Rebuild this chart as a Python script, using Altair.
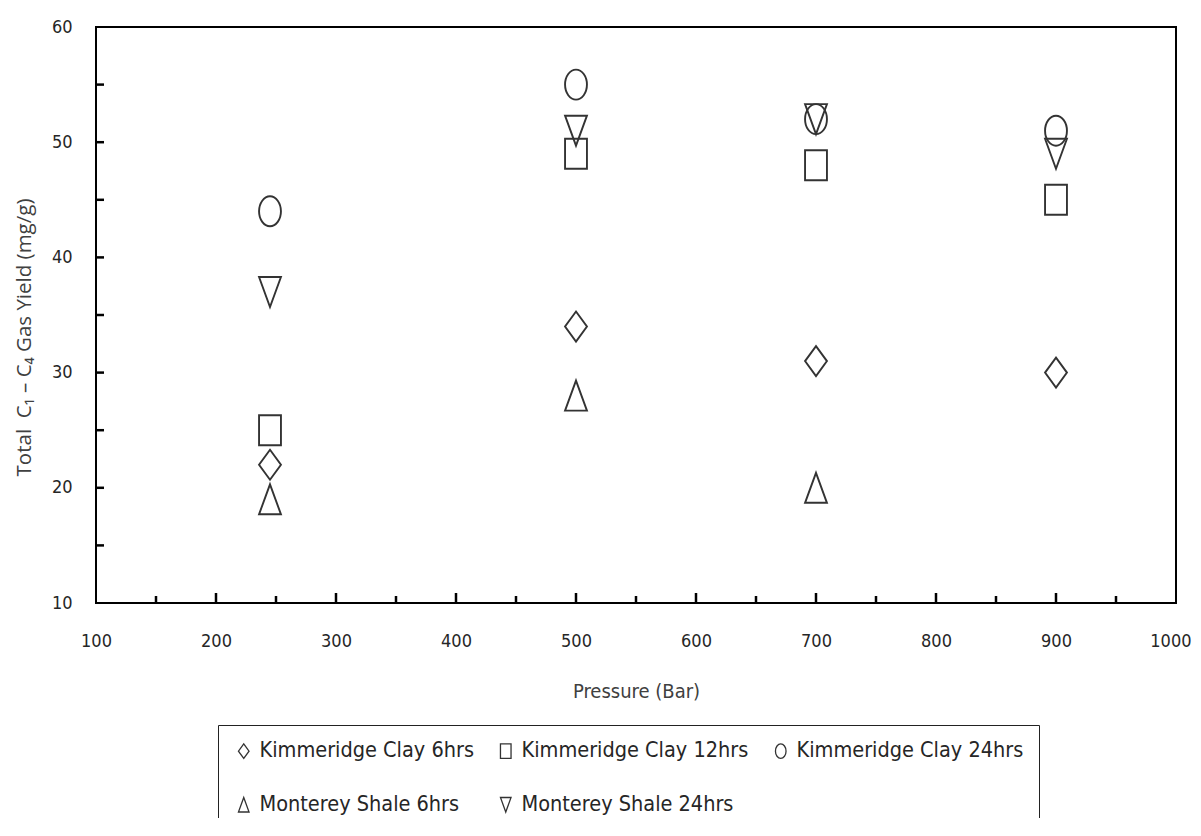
import altair as alt
import pandas as pd

# ---- data ----
series_names = [
    "Kimmeridge Clay 6hrs",
    "Kimmeridge Clay 12hrs",
    "Kimmeridge Clay 24hrs",
    "Monterey Shale 6hrs",
    "Monterey Shale 24hrs",
]
pressure_kc6 = [245, 500, 700, 900]
yield_kc6 = [22, 34, 31, 30]
pressure_kc12 = [245, 500, 700, 900]
yield_kc12 = [25, 49, 48, 45]
pressure_kc24 = [245, 500, 700, 900]
yield_kc24 = [44, 55, 52, 51]
pressure_ms6 = [245, 500, 700]
yield_ms6 = [19, 28, 20]
pressure_ms24 = [245, 500, 700, 900]
yield_ms24 = [37, 51, 52, 49]

x_labels = [100, 200, 300, 400, 500, 600, 700, 800, 900, 1000]
y_labels = [10, 20, 30, 40, 50, 60]
x_major_ticks = [200, 300, 400, 500, 600, 700, 800, 900]
x_minor_ticks = [150, 250, 350, 450, 550, 650, 750, 850, 950]
y_ticks = [15, 20, 25, 30, 35, 40, 45, 50, 55]

rows = []
for name, xs, ys in [
    (series_names[0], pressure_kc6, yield_kc6),
    (series_names[1], pressure_kc12, yield_kc12),
    (series_names[2], pressure_kc24, yield_kc24),
    (series_names[3], pressure_ms6, yield_ms6),
    (series_names[4], pressure_ms24, yield_ms24),
]:
    for x, y in zip(xs, ys):
        rows.append({"series": name, "pressure": x, "yield": y})
df = pd.DataFrame(rows)

# marker shapes (taller than wide, as in the reference)
w = 0.73
k = 0.5523
ellipse = (f"M{w},0 C{w},{k} {w*k:.4f},1 0,1 C{-w*k:.4f},1 {-w},{k} {-w},0 "
           f"C{-w},{-k} {-w*k:.4f},-1 0,-1 C{w*k:.4f},-1 {w},{-k} {w},0 Z")
square = f"M{-w},-1 L{w},-1 L{w},1 L{-w},1 Z"
diamond = f"M0,-1 L{w},0 L0,1 L{-w},0 Z"
tri_up = f"M0,-1 L{w},1 L{-w},1 Z"
tri_down = f"M{-w},-1 L{w},-1 L0,1 Z"
shapes = [diamond, square, ellipse, tri_up, tri_down]

W, H = 1080, 576
COND = "DejaVu Sans Condensed, Liberation Sans Narrow, Open Sans, sans-serif"
FONT = "Open Sans"

xscale = alt.Scale(domain=[100, 1000], nice=False, zero=False)
yscale = alt.Scale(domain=[10, 60], nice=False, zero=False)

points = alt.Chart(df).mark_point(
    filled=False, size=900, stroke="#333333", strokeWidth=1.9, opacity=1
).encode(
    x=alt.X("pressure:Q", scale=xscale,
            axis=alt.Axis(values=x_labels, format="d", title="Pressure (Bar)",
                          ticks=False, tickSize=0, domain=False, grid=False,
                          labelPadding=29, labelFontSize=18, labelFont=COND,
                          labelColor="#262626", labelFlush=False,
                          labelAlign={"condition": {"test": "datum.value >= 1000",
                                                    "value": "right"},
                                      "value": "center"},
                          labelOffset={"condition": {"test": "datum.value >= 1000",
                                                     "value": 15},
                                       "value": 0},
                          titleFont=COND, titleFontSize=20, titleFontWeight="normal",
                          titleColor="#404040", titleY=88, titleBaseline="middle")),
    y=alt.Y("yield:Q", scale=yscale,
            axis=alt.Axis(values=y_labels, format="d",
                          title="Total\u00a0 C₁ – C₄ Gas Yield (mg/g)",
                          ticks=False, tickSize=0, domain=False, grid=False,
                          labelPadding=24, labelFontSize=18, labelFont=COND,
                          labelColor="#262626", labelFlush=False,
                          titleFont=FONT, titleFontSize=20.5, titleFontWeight="normal",
                          titleColor="#404040", titleX=-72, titleY=310,
                          titleAngle=270, titleBaseline="middle")),
    shape=alt.Shape("series:N",
                    scale=alt.Scale(domain=series_names, range=shapes),
                    legend=alt.Legend(title=None, orient="none", legendX=122,
                                      legendY=698, columns=3, direction="horizontal",
                                      strokeColor="#222222", padding=15,
                                      symbolSize=210, symbolStrokeColor="#333333",
                                      symbolStrokeWidth=1.3,
                                      symbolFillColor="transparent",
                                      labelFont=COND, labelFontSize=21.5,
                                      labelColor="#262626", labelOffset=5,
                                      columnPadding=21, rowPadding=31,
                                      labelLimit=400)),
)

xmaj = alt.Chart(pd.DataFrame({"t": x_major_ticks})).mark_rule(
    color="black", strokeWidth=2.5
).encode(x=alt.X("t:Q", scale=xscale), y=alt.value(H), y2=alt.value(H - 10))

xmin = alt.Chart(pd.DataFrame({"t": x_minor_ticks})).mark_rule(
    color="black", strokeWidth=2.5
).encode(x=alt.X("t:Q", scale=xscale), y=alt.value(H), y2=alt.value(H - 7))

yt = alt.Chart(pd.DataFrame({"t": y_ticks})).mark_rule(
    color="black", strokeWidth=2.5
).encode(y=alt.Y("t:Q", scale=yscale), x=alt.value(0), x2=alt.value(8))

chart = alt.layer(points, xmaj, xmin, yt).properties(
    width=W, height=H,
    background="white",
    autosize=alt.AutoSizeParams(type="none"),
    padding={"left": 88, "top": 19, "right": 17, "bottom": 215},
).configure_view(stroke="black", strokeWidth=2)

chart.save("out.html", embed_options={"renderer": "svg", "actions": False})
